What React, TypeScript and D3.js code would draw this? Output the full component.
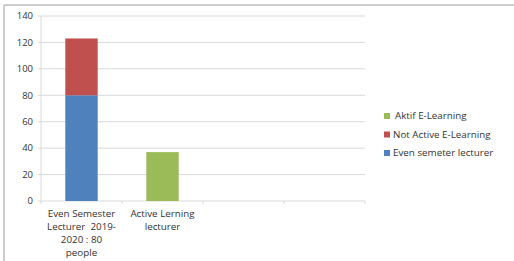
import React from "react";
import * as d3 from "d3";

// categories on the x axis (4 slots, only the first two used)
const categories = ["c1", "c2", "c3", "c4"];
const categoryLabels = [
  ["Even Semester", "Lecturer  2019-", "2020 : 80", "people"],
  ["Active Lerning", "lecturer"],
  [],
  [],
];

// series values per category
const evenSemester = [80, 0, 0, 0];
const notActive = [43, 0, 0, 0];
const aktif = [0, 37, 0, 0];

const yTicks = [0, 20, 40, 60, 80, 100, 120, 140];

const seriesNames = ["Aktif E-Learning", "Not Active E-Learning", "Even semeter lecturer"];
const seriesColors = ["#9bbb59", "#c0504d", "#4f81bd"];

const App = () => {
  const width = 514;
  const height = 261;
  const left = 41;
  const right = 365;
  const top = 16;
  const bottom = 201;

  const x = d3.scaleBand().domain(categories).range([left, right]).paddingInner(0.6).paddingOuter(0.3);
  const band = d3.scaleBand().domain(categories).range([left, right]);
  const y = d3.scaleLinear().domain([0, 140]).range([bottom, top]);

  // stack: blue at bottom, red on top, green separately
  const rows = categories.map((c, i) => ({
    cat: c,
    even: evenSemester[i],
    notActive: notActive[i],
    aktif: aktif[i],
  }));
  const stack = d3.stack<any>().keys(["even", "notActive", "aktif"]);
  const stacked = stack(rows);
  const keyColor: Record<string, string> = {
    even: seriesColors[2],
    notActive: seriesColors[1],
    aktif: seriesColors[0],
  };

  const font = "'Open Sans', 'Liberation Sans', sans-serif";

  return (
    <svg
      width={width}
      height={height}
      style={{ position: "absolute", left: 0, top: 0, background: "#fff" }}
      fontFamily={font}
    >
      {/* outer frame: top and left edges only */}
      <line x1={4} x2={514} y1={5} y2={5} stroke="#bdbdbd" strokeWidth={1.5} />
      <line x1={4} x2={4} y1={5} y2={261} stroke="#bdbdbd" strokeWidth={1.5} />

      {/* gridlines */}
      {yTicks.map((t) => (
        <line key={t} x1={left} x2={right} y1={y(t)} y2={y(t)} stroke="#d9d9d9" strokeWidth={1} />
      ))}
      {/* y axis */}
      <line x1={left} x2={left} y1={top} y2={bottom} stroke="#d9d9d9" />
      {yTicks.map((t) => (
        <g key={"yt" + t}>
          <line x1={left - 3} x2={left} y1={y(t)} y2={y(t)} stroke="#d9d9d9" />
          <text x={left - 8} y={y(t)} dy="0.35em" textAnchor="end" fontSize={9.5} fill="#333">
            {t}
          </text>
        </g>
      ))}
      {/* x axis ticks */}
      {[...categories.map((c) => band(c)!), right].map((v, i) => (
        <line key={"xt" + i} x1={v} x2={v} y1={bottom} y2={bottom + 3} stroke="#d9d9d9" />
      ))}

      {/* bars */}
      {stacked.map((s) =>
        s.map((d, i) =>
          d[1] - d[0] > 0 ? (
            <rect
              key={s.key + i}
              x={x(categories[i])}
              width={x.bandwidth()}
              y={y(d[1])}
              height={y(d[0]) - y(d[1])}
              fill={keyColor[s.key]}
            />
          ) : null
        )
      )}

      {/* category labels */}
      {categoryLabels.map((lines, i) => (
        <text
          key={"cl" + i}
          x={band(categories[i])! + band.bandwidth() / 2}
          y={bottom + 16}
          textAnchor="middle"
          fontSize={9.8}
          fill="#333"
        >
          {lines.map((l, j) => (
            <tspan key={j} x={band(categories[i])! + band.bandwidth() / 2} dy={j === 0 ? 0 : 13} style={{ whiteSpace: "pre" }}>
              {l}
            </tspan>
          ))}
        </text>
      ))}

      {/* legend */}
      {seriesNames.map((n, i) => (
        <g key={n} transform={`translate(384,${116 + i * 18.5})`}>
          <rect x={0} y={-3} width={6} height={6} fill={seriesColors[i]} />
          <text x={i === 0 ? 11 : 9} y={0} dy="0.35em" fontSize={9.8} fill="#333">
            {n}
          </text>
        </g>
      ))}
    </svg>
  );
};

export default App;
